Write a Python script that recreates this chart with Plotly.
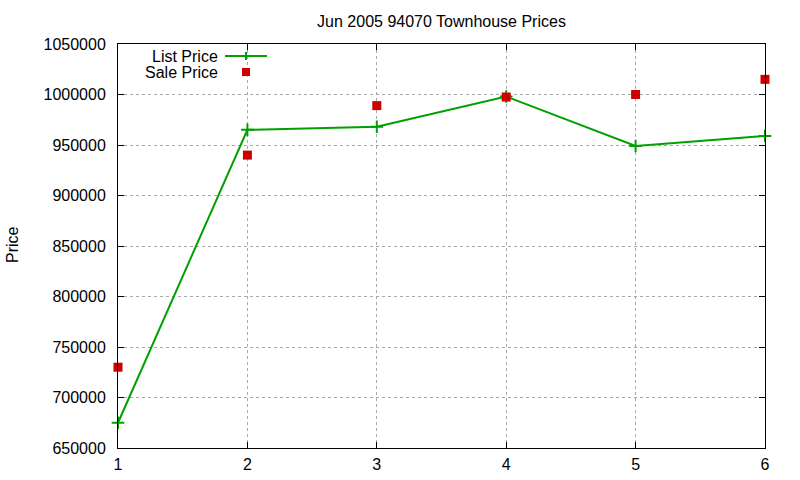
import plotly.graph_objects as go

x_vals = [1, 2, 3, 4, 5, 6]
list_price = [675000, 965000, 968000, 998000, 949000, 959000]
sale_price = [730000, 940000, 989000, 997500, 1000000, 1015000]
y_ticks = [650000, 700000, 750000, 800000, 850000, 900000, 950000, 1000000, 1050000]
title = "Jun 2005 94070 Townhouse Prices"

GREEN = "#00a000"
RED = "#cc0000"
FONT = "Liberation Sans, Arial, sans-serif"
FS = 16

fig = go.Figure()
fig.add_trace(go.Scatter(
    x=x_vals, y=list_price, mode="lines+markers", name="List Price",
    line=dict(color=GREEN, width=2),
    marker=dict(symbol="cross-thin", size=9, line=dict(color=GREEN, width=2)),
    showlegend=False, cliponaxis=False))
fig.add_trace(go.Scatter(
    x=x_vals, y=sale_price, mode="markers", name="Sale Price",
    marker=dict(symbol="square", size=9, color=RED),
    showlegend=False, cliponaxis=False))

W, H = 800, 480
L, R, T, B = 118, 35, 44, 32
pw, ph = W - L - R, H - T - B

def px(xp):
    return (xp - L) / pw

def py(yp):
    return (H - B - yp) / ph

# manual gnuplot-style legend
shapes = [
    dict(type="line", xref="paper", yref="paper", x0=px(225), x1=px(267), y0=py(56), y1=py(56),
         line=dict(color=GREEN, width=2)),
    dict(type="line", xref="paper", yref="paper", x0=px(246), x1=px(246), y0=py(52), y1=py(60),
         line=dict(color=GREEN, width=2)),
    dict(type="rect", xref="paper", yref="paper", x0=px(242), x1=px(250), y0=py(68), y1=py(76),
         fillcolor=RED, line=dict(width=0)),
]
annotations = [
    dict(text="List Price", xref="paper", yref="paper", x=px(219), y=py(56), xanchor="right",
         yanchor="middle", showarrow=False, height=14, borderpad=0, valign="middle",
         font=dict(family=FONT, size=FS, color="black")),
    dict(text="Sale Price", xref="paper", yref="paper", x=px(219), y=py(72), xanchor="right",
         yanchor="middle", showarrow=False, height=14, borderpad=0, valign="middle",
         font=dict(family=FONT, size=FS, color="black")),
    dict(text="Price", xref="paper", yref="paper", x=-106 / pw, y=py(245), xanchor="center",
         yanchor="middle", textangle=-90, showarrow=False,
         font=dict(family=FONT, size=FS, color="black")),
]

fig.update_layout(
    width=W, height=H,
    margin=dict(l=L, r=R, t=T, b=B, autoexpand=False),
    paper_bgcolor="white", plot_bgcolor="white",
    font=dict(family=FONT, size=FS, color="black"),
    title=dict(text=title, x=(L + pw / 2) / W, xanchor="center", y=1 - 21 / H, yanchor="middle",
               font=dict(family=FONT, size=FS, color="black")),
    shapes=shapes, annotations=annotations,
)
fig.update_xaxes(
    range=[1, 6], tickvals=x_vals, ticks="inside", ticklen=6, tickcolor="black",
    mirror="allticks", showline=True, linecolor="black", linewidth=1,
    showgrid=True, gridcolor="#a8a8a8", griddash="dot", gridwidth=1, zeroline=False,
    ticklabelstandoff=2, automargin=False,
    tickfont=dict(family=FONT, size=FS))
fig.update_yaxes(
    range=[650000, 1050000], tickvals=y_ticks, ticktext=[str(v) for v in y_ticks],
    ticks="inside", ticklen=6, tickcolor="black",
    mirror="allticks", showline=True, linecolor="black", linewidth=1,
    showgrid=True, gridcolor="#a8a8a8", griddash="dot", gridwidth=1, zeroline=False,
    ticklabelstandoff=8, automargin=False,
    tickfont=dict(family=FONT, size=FS))

fig.write_html("out.html")
